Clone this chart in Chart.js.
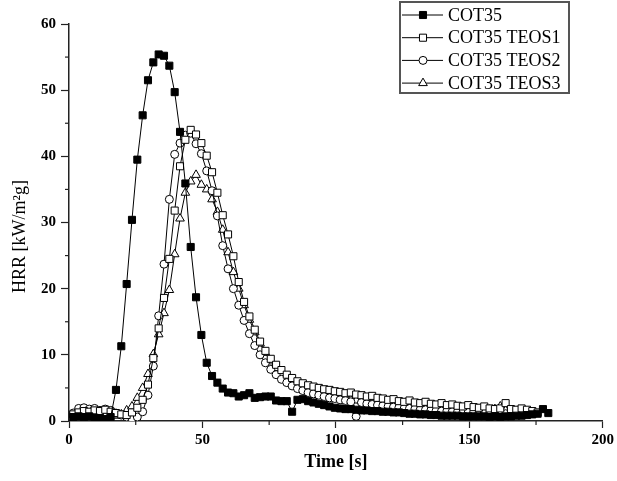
<!DOCTYPE html>
<html>
<head>
<meta charset="utf-8">
<script src="https://cdn.jsdelivr.net/npm/chart.js"></script>
<style>
  html, body { margin: 0; padding: 0; background: #fff; }
  #wrap { width: 617px; height: 481px; position: relative; }
</style>
</head>
<body>
<div id="wrap"><canvas id="hrr"></canvas></div>
<script>
// time axis (s), one reading every ~2 s
const timeS = [
  1.6, 3.6, 5.6, 7.6, 9.6, 11.6, 13.6, 15.6, 17.6, 19.6,
  21.6, 23.6, 25.6, 27.6, 29.6, 31.6, 33.6, 35.6, 37.6, 39.6,
  41.6, 43.6, 45.6, 47.6, 49.6, 51.6, 53.6, 55.6, 57.6, 59.6,
  61.6, 63.6, 65.6, 67.6, 69.6, 71.6, 73.6, 75.6, 77.6, 79.6,
  81.6, 83.6, 85.6, 87.6, 89.6, 91.6, 93.6, 95.6, 97.6, 99.6,
  101.6, 103.6, 105.6, 107.6, 109.6, 111.6, 113.6, 115.6, 117.6, 119.6,
  121.6, 123.6, 125.6, 127.6, 129.6, 131.6, 133.6, 135.6, 137.6, 139.6,
  141.6, 143.6, 145.6, 147.6, 149.6, 151.6, 153.6, 155.6, 157.6, 159.6,
  161.6, 163.6, 165.6, 167.6, 169.6, 171.6, 173.6, 175.6, 177.6, 179.6
];

// HRR values (kW/m2g)
const cot35 = [
  0.6, 0.7, 0.6, 0.7, 0.5, 0.4, 0.3, 0.6, 4.7, 11.3,
  20.7, 30.4, 39.5, 46.2, 51.5, 54.2, 55.4, 55.2, 53.7, 49.7,
  43.7, 35.9, 26.3, 18.7, 13.0, 8.8, 6.8, 5.8, 4.9, 4.3,
  4.2, 3.7, 3.9, 4.2, 3.5, 3.6, 3.7, 3.7, 3.1, 3.0,
  3.0, 1.4, 3.2, 3.3, 3.0, 2.8, 2.6, 2.4, 2.2, 2.0,
  1.9, 1.8, 1.8, 1.7, 1.6, 1.6, 1.5, 1.5, 1.4, 1.4,
  1.3, 1.3, 1.2, 1.1, 1.1, 1.0, 1.0, 0.9, 0.9, 0.8,
  0.8, 0.8, 0.8, 0.7, 0.7, 0.7, 0.7, 0.7, 0.6, 0.7,
  0.6, 0.7, 0.7, 0.8, 0.8, 0.9, 1.0, 1.1, 1.8, 1.2
];
const teos1 = [
  1.0, 1.3, 1.5, 1.4, 1.6, 1.5, 1.7, 1.4, 1.2, 1.0,
  0.9, 1.3, 2.0, 3.2, 5.5, 9.5, 14.0, 18.6, 24.5, 31.8,
  38.5, 42.5, 44.0, 43.3, 42.0, 40.1, 37.6, 34.5, 31.1, 28.2,
  24.9, 21.0, 18.0, 15.8, 13.8, 12.0, 10.6, 9.4, 8.5, 7.7,
  7.0, 6.5, 6.0, 5.7, 5.4, 5.2, 5.0, 4.8, 4.7, 4.5,
  4.4, 4.2, 4.3, 4.0, 3.9, 3.7, 3.8, 3.5, 3.4, 3.2,
  3.3, 3.0, 2.9, 3.1, 2.8, 2.7, 2.9, 2.6, 2.5, 2.7,
  2.4, 2.5, 2.3, 2.2, 2.4, 2.1, 2.0, 2.2, 1.9, 1.8,
  1.9, 2.7, 1.8, 1.7, 1.9, 1.7, 1.5, 1.3
];
const teos2 = [
  1.2, 1.9, 2.0, 1.8, 1.9, 1.6, 1.8, 1.6, 1.2, 0.9,
  0.6, 0.4, 0.6, 1.4, 3.9, 8.3, 15.9, 23.7, 33.5, 40.3,
  42.0, 43.2, 43.5, 41.9, 40.4, 37.8, 34.8, 31.0, 26.5, 23.0,
  20.0, 17.5, 15.2, 13.2, 11.4, 10.0, 8.8, 7.8, 7.0, 6.3,
  5.8, 5.3, 4.9, 4.6, 4.3, 4.1, 3.9, 3.7, 3.5, 3.4,
  3.2, 3.1, 2.9, 0.7, 2.8, 2.6, 2.5, 2.4, 2.3, 2.2,
  2.1, 2.0, 1.9, 1.9, 1.8, 1.7, 1.7, 1.6, 1.6, 1.5,
  1.5, 1.4, 1.4, 1.3, 1.3, 1.3, 1.2, 1.2, 1.1, 1.1,
  1.2, 1.1
];
const teos3 = [
  0.9, 1.1, 1.2, 1.0, 1.3, 1.2, 1.0, 0.9, 0.8, 1.0,
  1.6, 2.2, 3.5, 5.0, 7.1, 10.1, 13.1, 16.3, 19.8, 25.2,
  30.6, 34.5, 36.2, 37.2, 35.7, 35.0, 33.5, 31.6, 28.9, 25.5,
  22.5, 20.0, 17.5, 15.3, 13.4, 11.7, 10.3, 9.0, 8.0, 7.2,
  6.5, 6.0, 5.5, 5.1, 4.8, 4.5, 4.3, 4.0, 3.8, 3.7,
  3.5, 3.4, 3.2, 3.1, 3.0, 2.9, 2.8, 2.7, 2.6, 2.5,
  2.4, 2.3, 2.3, 2.2, 2.1, 2.1, 2.0, 2.0, 1.9, 1.9,
  1.8, 1.8, 1.8, 1.7, 1.7, 1.7, 1.6, 1.6, 1.7, 1.8,
  2.2, 1.6
];

const seriesNames = ['COT35', 'COT35 TEOS1', 'COT35 TEOS2', 'COT35 TEOS3'];
const xMinorTicks = [25, 75, 125, 175];
const yMinorTicks = [5, 15, 25, 35, 45, 55];
const yTitle = 'HRR [kW/m²g]';

const serif = "'Liberation Serif', 'Times New Roman', serif";
Chart.defaults.font.family = serif;
Chart.defaults.color = '#000';

const toPoints = (vals) => vals.map((v, i) => ({ x: timeS[i], y: v }));

const mk = (label, vals, style, fill, radius) => ({
  label: label,
  data: toPoints(vals),
  borderColor: '#000',
  borderWidth: 1,
  pointStyle: style,
  pointRadius: radius,
  pointBackgroundColor: fill,
  pointBorderColor: '#000',
  pointBorderWidth: 1,
  tension: 0
});

// short minor ticks between labelled ones, plus the y title (sits a bit low in the original)
const axisExtras = {
  id: 'axisExtras',
  afterDraw(chart) {
    const { ctx, scales: { x, y }, chartArea } = chart;
    ctx.save();
    ctx.strokeStyle = '#222';
    ctx.lineWidth = 1.2;
    xMinorTicks.forEach(v => {
      const px = x.getPixelForValue(v);
      ctx.beginPath();
      ctx.moveTo(px, chartArea.bottom);
      ctx.lineTo(px, chartArea.bottom + 4);
      ctx.stroke();
    });
    yMinorTicks.forEach(v => {
      const py = y.getPixelForValue(v);
      ctx.beginPath();
      ctx.moveTo(chartArea.left - 4, py);
      ctx.lineTo(chartArea.left, py);
      ctx.stroke();
    });
    ctx.translate(20, (chartArea.top + chartArea.bottom) / 2 + 14);
    ctx.rotate(-Math.PI / 2);
    ctx.font = '18px ' + serif;
    ctx.fillStyle = '#000';
    ctx.textAlign = 'center';
    ctx.textBaseline = 'middle';
    ctx.fillText(yTitle, 0, 0);
    ctx.restore();
  }
};

// boxed legend at the top right
const boxLegend = {
  id: 'boxLegend',
  afterDraw(chart) {
    const ctx = chart.ctx;
    ctx.save();
    ctx.strokeStyle = '#555';
    ctx.lineWidth = 2;
    ctx.strokeRect(400, 2, 169, 91);
    ctx.font = '18px ' + serif;
    ctx.textBaseline = 'middle';
    chart.data.datasets.forEach((ds, i) => {
      const yy = 15 + i * 22.7;
      ctx.strokeStyle = '#000';
      ctx.lineWidth = 1;
      ctx.beginPath();
      ctx.moveTo(402, yy);
      ctx.lineTo(443, yy);
      ctx.stroke();
      ctx.fillStyle = ds.pointBackgroundColor;
      Chart.helpers.drawPoint(ctx, {
        pointStyle: ds.pointStyle,
        radius: ds.pointRadius,
        borderWidth: 1,
        rotation: 0
      }, 423, yy);
      ctx.fillStyle = '#000';
      ctx.fillText(seriesNames[i], 448, yy + 1);
    });
    ctx.restore();
  }
};

new Chart(document.getElementById('hrr'), {
  type: 'line',
  data: {
    datasets: [
      mk(seriesNames[0], cot35, 'rect', '#000', 5),
      mk(seriesNames[1], teos1, 'rect', '#fff', 5),
      mk(seriesNames[2], teos2, 'circle', '#fff', 4),
      mk(seriesNames[3], teos3, 'triangle', '#fff', 5)
    ]
  },
  options: {
    responsive: true,
    maintainAspectRatio: false,
    animation: false,
    layout: { padding: { top: 24, right: 12, left: 0, bottom: 0 } },
    plugins: {
      legend: { display: false },
      tooltip: { enabled: false }
    },
    scales: {
      x: {
        type: 'linear',
        min: 0,
        max: 200,
        afterFit: s => { s.height = 60; },
        ticks: {
          stepSize: 50,
          padding: 3,
          font: { size: 15, weight: 'bold' },
          color: '#000'
        },
        grid: {
          drawOnChartArea: false,
          tickLength: 7,
          tickColor: '#222',
          tickWidth: 1.2
        },
        border: { color: '#222', width: 1.5 },
        title: {
          display: true,
          text: 'Time [s]',
          font: { size: 18, weight: 'bold' },
          color: '#000',
          padding: { top: 0, bottom: 8 }
        }
      },
      y: {
        min: 0,
        max: 60,
        afterFit: s => { s.width = 69; },
        ticks: {
          stepSize: 10,
          padding: 5,
          font: { size: 15, weight: 'bold' },
          color: '#000'
        },
        grid: {
          drawOnChartArea: false,
          tickLength: 8,
          tickColor: '#222',
          tickWidth: 1.2
        },
        border: { color: '#222', width: 1.5 }
      }
    }
  },
  plugins: [axisExtras, boxLegend]
});
</script>
</body>
</html>
